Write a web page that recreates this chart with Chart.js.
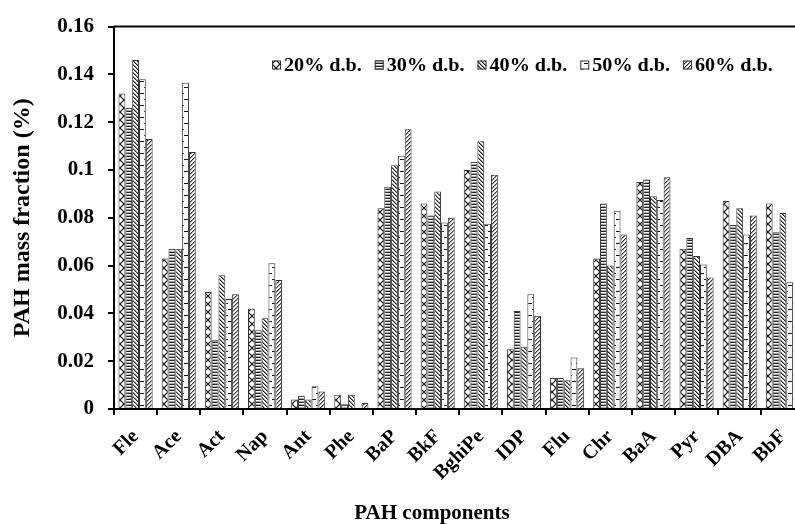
<!DOCTYPE html>
<html><head><meta charset="utf-8">
<script src="https://cdn.jsdelivr.net/npm/chart.js@4/dist/chart.umd.min.js"></script>
<style>
html,body{margin:0;padding:0;overflow:hidden;background:#fff;width:795px;height:524px}
#wrap{position:absolute;left:0;top:0;width:810px;height:524px}
</style>
</head><body><div id="wrap"><canvas id="c" width="810" height="524" style="width:810px;height:524px"></canvas></div>
<script>
const categories = ['Fle','Ace','Act','Nap','Ant','Phe','BaP','BkF','BghiPe','IDP','Flu','Chr','BaA','Pyr','DBA','BbF'];
const seriesLabels = ['20% d.b.','30% d.b.','40% d.b.','50% d.b.','60% d.b.'];
const db20 = [0.132, 0.063, 0.049, 0.042, 0.004, 0.006, 0.084, 0.086, 0.100, 0.025, 0.013, 0.063, 0.095, 0.067, 0.087, 0.086];
const db30 = [0.126, 0.067, 0.029, 0.033, 0.0055, 0.002, 0.093, 0.081, 0.1035, 0.041, 0.013, 0.086, 0.096, 0.0715, 0.077, 0.074];
const db40 = [0.146, 0.067, 0.056, 0.038, 0.004, 0.006, 0.102, 0.091, 0.112, 0.026, 0.012, 0.060, 0.089, 0.064, 0.084, 0.082];
const db50 = [0.138, 0.1365, 0.046, 0.061, 0.0095, 0.0005, 0.106, 0.078, 0.0775, 0.048, 0.0215, 0.083, 0.0875, 0.0605, 0.073, 0.053];
const db60 = [0.113, 0.1075, 0.048, 0.054, 0.0073, 0.0025, 0.117, 0.080, 0.098, 0.039, 0.017, 0.073, 0.097, 0.055, 0.081, null];
const yTickLabels = ['0','0.02','0.04','0.06','0.08','0.1','0.12','0.14','0.16'];
const xAxisTitle = 'PAH components';
const yAxisTitle = 'PAH mass fraction (%)';

function makePattern(kind){
  const c = document.createElement('canvas');
  let w = 4, h = 4;
  if (kind === 'cross') { w = 8; h = 8; }
  if (kind === 'hlines') { w = 4; h = 3; }
  if (kind === 'dash') { w = 8; h = 12; }
  c.width = w; c.height = h;
  const g = c.getContext('2d');
  g.fillStyle = '#fff'; g.fillRect(0,0,w,h);
  if (kind === 'cross') {
    g.strokeStyle = '#111'; g.lineWidth = 1.2;
    g.beginPath(); g.moveTo(0,0); g.lineTo(8,8); g.moveTo(8,0); g.lineTo(0,8); g.stroke();
  } else if (kind === 'hlines') {
    g.fillStyle = '#222'; g.fillRect(0,0,w,1);
    g.fillStyle = '#aaa'; g.fillRect(0,2,w,1);
  } else if (kind === 'back') {
    for (let i = 0; i < 4; i++) {
      g.fillStyle = '#222'; g.fillRect(i,i,1,1);
      g.fillStyle = '#888'; g.fillRect((i+1)%4,i,1,1);
    }
  } else if (kind === 'dash') {
    g.fillStyle = '#111'; g.fillRect(0,3,4,1); g.fillRect(4,9,4,1);
  } else if (kind === 'fwd') {
    for (let i = 0; i < 4; i++) {
      g.fillStyle = '#333'; g.fillRect(3-i,i,1,1);
      g.fillStyle = '#999'; g.fillRect((4-i)%4,i,1,1);
    }
  }
  return g.createPattern(c,'repeat');
}

const seriesValues = [db20, db30, db40, db50, db60];
const patternKinds = ['cross','hlines','back','dash','fwd'];

const frameAndLegend = {
  id: 'frameAndLegend',
  afterDatasetsDraw(chart){
    const ctx = chart.ctx, a = chart.chartArea;
    ctx.save();
    ctx.strokeStyle = '#000'; ctx.lineWidth = 2;
    ctx.beginPath(); ctx.moveTo(a.left, a.top); ctx.lineTo(a.right, a.top); ctx.lineTo(a.right, a.bottom); ctx.stroke();
    // inline legend
    ctx.font = 'bold 18px "Liberation Serif"';
    ctx.textBaseline = 'middle';
    const y = 65, box = 9;
    chart.data.datasets.forEach((ds, i) => {
      const x = 272 + i * 102.75;
      ctx.fillStyle = ds.backgroundColor; ctx.fillRect(x, y - box/2, box, box);
      ctx.strokeStyle = '#333'; ctx.lineWidth = 1; ctx.strokeRect(x + 0.5, y - box/2 + 0.5, box - 1, box - 1);
      ctx.save();
      ctx.translate(x + box + 3, y + 1);
      ctx.scale(1.12, 1);
      ctx.fillStyle = '#000'; ctx.fillText(ds.label, 0, 0);
      ctx.restore();
    });
    // x axis title
    ctx.font = 'bold 21px "Liberation Serif"';
    ctx.textAlign = 'center';
    ctx.fillStyle = '#000';
    ctx.fillText(xAxisTitle, 432, 514);
    ctx.restore();
  }
};

new Chart(document.getElementById('c'), {
  type: 'bar',
  data: {
    labels: categories,
    datasets: seriesValues.map((vals, i) => ({
      label: seriesLabels[i],
      data: vals,
      backgroundColor: makePattern(patternKinds[i]),
      borderColor: '#333',
      borderWidth: 1,
      categoryPercentage: 0.79,
      barPercentage: 1.0
    }))
  },
  options: {
    responsive: false,
    animation: false,
    devicePixelRatio: 1,
    layout: { padding: { top: 22, right: 4.8, left: 0, bottom: 0 } },
    plugins: { legend: { display: false }, tooltip: { enabled: false } },
    scales: {
      x: {
        grid: { drawOnChartArea: false, color: '#000', lineWidth: 2, tickLength: 6, offset: true },
        border: { color: '#000', width: 2 },
        ticks: { color: '#000', font: { family: 'Liberation Serif', weight: 'bold', size: 20 }, minRotation: 45, maxRotation: 45, autoSkip: false, padding: 10 },
        title: { display: false },
        afterFit(s){ s.height = 115; }
      },
      y: {
        min: 0, max: 0.16,
        grid: { drawOnChartArea: false, color: '#000', lineWidth: 2, tickLength: 6 },
        border: { color: '#000', width: 2 },
        ticks: { stepSize: 0.02, color: '#000', font: { family: 'Liberation Serif', weight: 'bold', size: 21 }, padding: 14,
          callback: (v, i) => yTickLabels[i] },
        title: { display: true, text: yAxisTitle, color: '#000', font: { family: 'Liberation Serif', weight: 'bold', size: 24 }, padding: { top: 8, bottom: 0 } },
        afterFit(s){ s.width = 114; }
      }
    }
  },
  plugins: [frameAndLegend]
});
</script>
</body></html>
